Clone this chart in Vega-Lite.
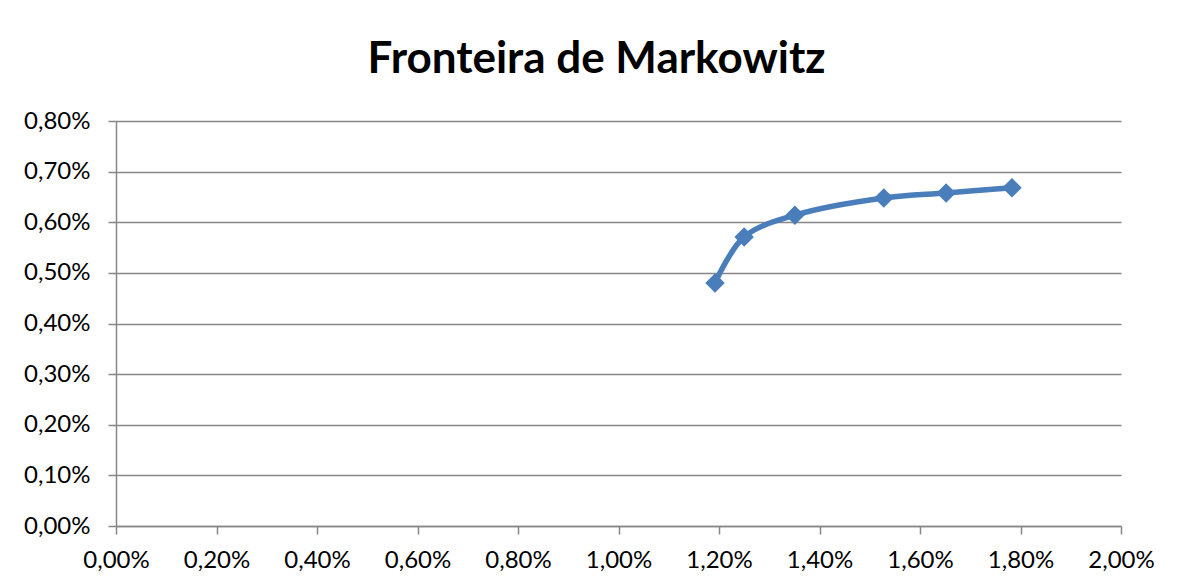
{
  "$schema": "https://vega.github.io/schema/vega-lite/v6.json",
  "width": 1005,
  "height": 405,
  "padding": {"left": 116, "top": 121, "right": 60, "bottom": 59},
  "autosize": {"type": "none"},
  "background": "white",
  "title": {
    "text": "Fronteira de Markowitz",
    "font": "Lato",
    "fontSize": 44,
    "fontWeight": "bold",
    "color": "#000000",
    "anchor": "middle",
    "dx": -22,
    "offset": 27
  },
  "config": {
    "view": {"stroke": null},
    "axis": {
      "labelFont": "Lato",
      "labelFontSize": 24,
      "labelColor": "#000000",
      "labelFlush": false,
      "labelOverlap": false,
      "domainColor": "#868686",
      "domainWidth": 1.5,
      "tickColor": "#868686",
      "tickWidth": 1.5,
      "tickSize": 8,
      "gridColor": "#868686",
      "gridWidth": 1.5,
      "title": null
    }
  },
  "data": {
    "values": [
      {"risco": 1.192, "retorno": 0.480},
      {"risco": 1.250, "retorno": 0.571},
      {"risco": 1.351, "retorno": 0.614},
      {"risco": 1.528, "retorno": 0.648},
      {"risco": 1.652, "retorno": 0.658},
      {"risco": 1.783, "retorno": 0.668}
    ]
  },
  "encoding": {
    "x": {
      "field": "risco",
      "type": "quantitative",
      "scale": {"domain": [0, 2], "nice": false, "zero": true},
      "axis": {
        "values": [0, 0.2, 0.4, 0.6, 0.8, 1.0, 1.2, 1.4, 1.6, 1.8, 2.0],
        "grid": false,
        "labelPadding": 14,
        "labelExpr": "replace(format(datum.value, '.2f'), '.', ',') + '%'"
      }
    },
    "y": {
      "field": "retorno",
      "type": "quantitative",
      "scale": {"domain": [0, 0.8], "nice": false},
      "axis": {
        "values": [0, 0.1, 0.2, 0.3, 0.4, 0.5, 0.6, 0.7, 0.8],
        "grid": true,
        "labelPadding": 18,
        "labelExpr": "replace(format(datum.value, '.2f'), '.', ',') + '%'"
      }
    }
  },
  "layer": [
    {
      "mark": {"type": "line", "interpolate": "catmull-rom", "color": "#4A7EBB", "strokeWidth": 5.5}
    },
    {
      "mark": {"type": "point", "shape": "diamond", "filled": true, "color": "#4A7EBB", "opacity": 1, "size": 380}
    }
  ]
}
